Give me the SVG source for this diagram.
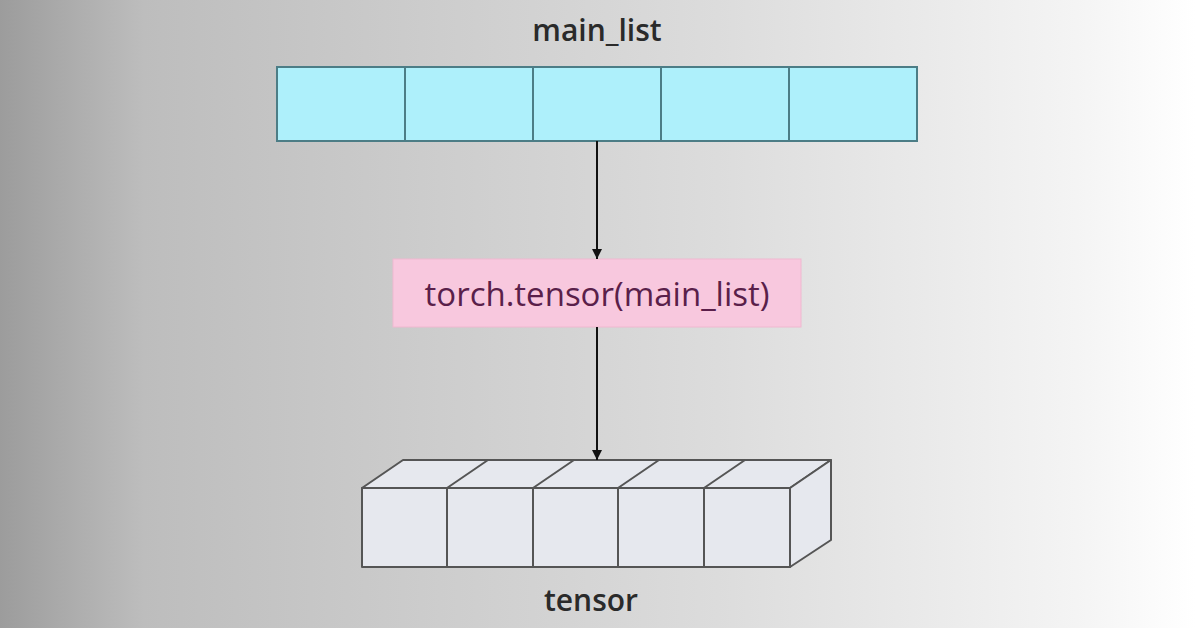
<svg xmlns="http://www.w3.org/2000/svg" width="1196" height="628" viewBox="0 0 1196 628">
<defs>
<linearGradient id="bg" x1="0" y1="0" x2="1" y2="0">
<stop offset="0" stop-color="#9c9c9c"/><stop offset="0.12" stop-color="#bdbdbd"/><stop offset="0.6" stop-color="#dcdcdc"/><stop offset="0.9" stop-color="#f4f4f4"/><stop offset="1" stop-color="#ffffff"/>
</linearGradient>
<marker id="ah" viewBox="0 0 10 10" refX="10" refY="5" markerWidth="10" markerHeight="10" markerUnits="userSpaceOnUse" orient="auto"><path d="M0,0 L10,5 L0,10 z" fill="#111"/></marker>
</defs>
<style>
.lbl{font-family:"Open Sans","Liberation Sans",sans-serif;font-size:30px;font-weight:600;fill:#2a2a2a;text-anchor:middle}
.cell{fill:#aef0fb;stroke:#4c7d86;stroke-width:2}
.cube{fill:#e6e8ee;stroke:#555;stroke-width:2;stroke-linejoin:round}
.conn{stroke:#111;stroke-width:2;fill:none}
</style>
<rect width="1196" height="628" fill="url(#bg)"/>
<g id="main_list">
<text class="lbl" x="597" y="41">main_list</text>
<rect class="cell" x="277" y="67" width="128" height="74"/>
<rect class="cell" x="405" y="67" width="128" height="74"/>
<rect class="cell" x="533" y="67" width="128" height="74"/>
<rect class="cell" x="661" y="67" width="128" height="74"/>
<rect class="cell" x="789" y="67" width="128" height="74"/>
</g>
<g id="op">
<rect x="393" y="259" width="408" height="68" fill="#f8c8de" stroke="#f0b8d0" stroke-width="1"/>
<text x="597" y="306" font-family="'Open Sans','Liberation Sans',sans-serif" font-size="33" fill="#5a1f4a" text-anchor="middle">torch.tensor(main_list)</text>
</g>
<g id="tensor">
<path class="cube" d="M362,488 L403,460 L831,460 L790,488 Z"/>
<path class="cube" d="M790,488 L831,460 L831,540 L790,567 Z"/>
<rect class="cube" x="362" y="488" width="428" height="79"/>
<path class="cube" d="M447,488 V567 M533,488 V567 M618,488 V567 M704,488 V567 M447,488 L488,460 M533,488 L574,460 M618,488 L659,460 M704,488 L745,460"/>
<text class="lbl" x="591" y="611">tensor</text>
</g>
<g id="connectors">
<line class="conn" x1="597" y1="141" x2="597" y2="259" marker-end="url(#ah)"/>
<line class="conn" x1="597" y1="327" x2="597" y2="460" marker-end="url(#ah)"/>
</g>
</svg>
